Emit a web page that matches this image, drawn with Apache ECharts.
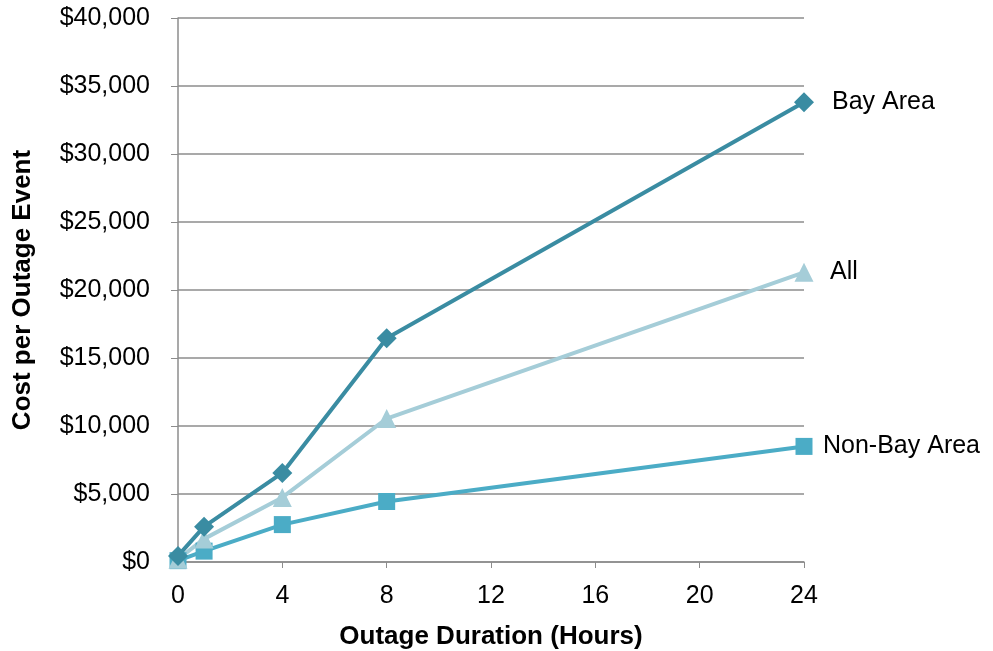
<!DOCTYPE html>
<html>
<head>
<meta charset="utf-8">
<script src="https://cdn.jsdelivr.net/npm/echarts@6/dist/echarts.min.js"></script>
<style>html,body{margin:0;padding:0;background:#fff;}#c{width:993px;height:651px;}</style>
</head>
<body>
<div id="c"></div>
<script>
const hours = [0, 1, 4, 8, 24];
const bayArea = [450, 2600, 6550, 16450, 33800];
const allCust = [200, 1700, 4750, 10550, 21300];
const nonBay = [100, 800, 2750, 4450, 8500];
const xTicks = [0, 4, 8, 12, 16, 20, 24];
const yTicks = [0, 5000, 10000, 15000, 20000, 25000, 30000, 35000, 40000];

const FONT = '"Liberation Sans", Arial, sans-serif';
function pts(vals){ return hours.map((h,i)=>[h, vals[i]]); }
function money(v){ return '$' + v.toLocaleString('en-US'); }

const chart = echarts.init(document.getElementById('c'), null, {renderer:'canvas'});
function mk(name, vals, color, symbol, size, dist){
  return {
    name, type:'line', data: pts(vals), symbol, symbolSize: size,
    lineStyle:{color, width:4}, itemStyle:{color}, z: 3,
    endLabel:{show:true, formatter:'{a}', color:'#000', fontSize:25, fontFamily:FONT, distance: dist},
    animation:false
  };
}
chart.setOption({
  animation:false,
  grid:{left:178, right:189, top:18, bottom:89, containLabel:false, outerBoundsMode:'none'},
  xAxis:{
    type:'value', min:xTicks[0], max:xTicks[xTicks.length-1], interval:4,
    name:'Outage Duration (Hours)', nameLocation:'middle', nameGap:62,
    nameTextStyle:{fontSize:26, fontWeight:'bold', color:'#000', fontFamily:FONT},
    axisLine:{show:true, lineStyle:{color:'#8c8c8c', width:1.5}},
    axisTick:{show:true, length:6, lineStyle:{color:'#8c8c8c'}},
    axisLabel:{fontSize:25, color:'#000', fontFamily:FONT, margin:22},
    splitLine:{show:false}
  },
  yAxis:{
    type:'value', min:yTicks[0], max:yTicks[yTicks.length-1], interval:5000,
    name:'Cost per Outage Event', nameLocation:'middle', nameGap:142,
    nameTextStyle:{fontSize:26, fontWeight:'bold', color:'#000', fontFamily:FONT},
    axisLine:{show:true, lineStyle:{color:'#8c8c8c', width:1.5}},
    axisTick:{show:true, length:7, lineStyle:{color:'#8c8c8c'}},
    axisLabel:{fontSize:25, color:'#000', fontFamily:FONT, margin:28, formatter: money},
    splitLine:{show:true, lineStyle:{color:'#8c8c8c', width:1.5}}
  },
  series:[
    mk('Non-Bay Area', nonBay, '#4BACC6', 'rect', 17, 19),
    mk('All', allCust, '#A5CDD8', 'triangle', 19, 26),
    mk('Bay Area', bayArea, '#3A8CA2', 'diamond', 20, 28)
  ]
});
</script>
</body>
</html>
